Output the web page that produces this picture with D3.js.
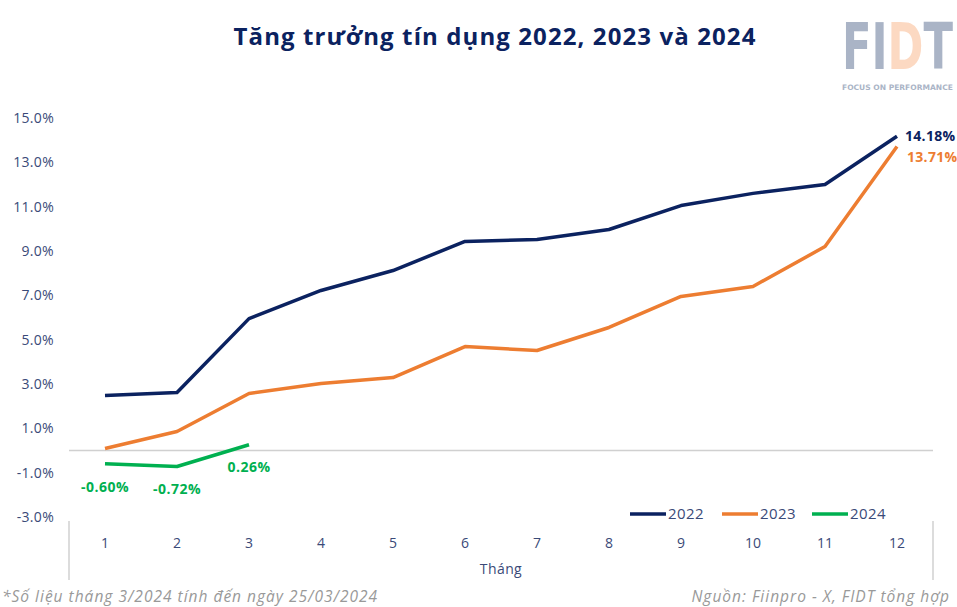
<!DOCTYPE html>
<html>
<head>
<meta charset="utf-8">
<script src="https://cdn.jsdelivr.net/npm/d3@7"></script>
<style>
  body { margin: 0; background: #fff; }
  svg { display: block; font-family: "Open Sans", "DejaVu Sans", sans-serif; }
</style>
</head>
<body>
<div id="chart"></div>
<script>
(function() {
  const width = 957
  const height = 607

  // data
  const months = ['1', '2', '3', '4', '5', '6', '7', '8', '9', '10', '11', '12']
  const y2022 = [2.48, 2.62, 5.95, 7.22, 8.12, 9.43, 9.52, 9.97, 11.05, 11.6, 12.0, 14.18]
  const y2023 = [0.09, 0.86, 2.57, 3.02, 3.29, 4.69, 4.51, 5.55, 6.95, 7.4, 9.2, 13.71]
  const y2024 = [-0.60, -0.72, 0.26]
  const yTicks = [-3, -1, 1, 3, 5, 7, 9, 11, 13, 15]
  const seriesNames = ['2022', '2023', '2024']
  const colors = ['#0b2260', '#ed7d31', '#00b050']

  const navyText = '#3a4a78'
  const hyphen = s => s.replace('\u2212', '-')

  const svg = d3.select('#chart').append('svg')
      .attr('width', width)
      .attr('height', height)

  const x = d3.scaleBand().domain(months).range([69, 933])
  const y = d3.scaleLinear().domain([-3, 15]).range([517, 118])
  const cx = m => x(m) + x.bandwidth() / 2

  // title
  svg.append('text')
      .attr('x', 495).attr('y', 45)
      .attr('text-anchor', 'middle')
      .attr('font-size', 24).attr('font-weight', 700)
      .attr('letter-spacing', 1.1)
      .attr('fill', '#0b2260')
      .text('Tăng trưởng tín dụng 2022, 2023 và 2024')

  // logo: one text, scaled horizontally into its box, D in peach
  const logo = svg.append('text')
      .attr('font-family', 'DejaVu Sans').attr('font-weight', 700)
      .attr('font-size', 64)
      .attr('fill', '#aab4c6')
  logo.append('tspan').text('FI')
  logo.append('tspan').attr('fill', '#fcd9c2').text('D')
  logo.append('tspan').text('T')
  const logoLen = logo.node().getComputedTextLength()
  logo.attr('transform', `translate(842,69) scale(${111 / logoLen},1)`)

  const tag = svg.append('text')
      .attr('font-family', 'DejaVu Sans').attr('font-weight', 700)
      .attr('font-size', 7.5)
      .attr('fill', '#aab4c6')
      .text('FOCUS ON PERFORMANCE')
  const tagLen = tag.node().getComputedTextLength()
  tag.attr('transform', `translate(842,90) scale(${111 / tagLen},1)`)

  // y axis labels
  const yAxis = svg.append('g')
      .attr('transform', 'translate(54,0)')
      .call(d3.axisLeft(y).tickValues(yTicks).tickSize(0).tickPadding(0)
        .tickFormat(d => hyphen(d3.format('.1f')(d)) + '%'))
  yAxis.select('.domain').remove()
  yAxis.selectAll('text')
      .attr('font-size', 14).attr('fill', navyText)
      .attr('letter-spacing', 0.3)
      .attr('font-family', '"Open Sans", sans-serif')

  // zero line
  svg.append('line')
      .attr('x1', 69).attr('x2', 933)
      .attr('y1', y(0)).attr('y2', y(0))
      .attr('stroke', '#d0d0d0').attr('stroke-width', 1.5)

  // category axis
  const xAxis = svg.append('g')
      .attr('transform', 'translate(0,521)')
      .call(d3.axisBottom(x).tickSize(0).tickPadding(17))
  xAxis.select('.domain').remove()
  xAxis.selectAll('text')
      .attr('font-size', 14).attr('fill', navyText)
      .attr('font-family', '"Open Sans", sans-serif')

  svg.selectAll('line.sep').data([69, 933]).enter().append('line')
      .attr('class', 'sep')
      .attr('x1', d => d).attr('x2', d => d)
      .attr('y1', 521).attr('y2', 580)
      .attr('stroke', '#d0d0d0').attr('stroke-width', 1.5)

  svg.append('text')
      .attr('x', 501).attr('y', 574)
      .attr('text-anchor', 'middle')
      .attr('font-size', 14).attr('fill', navyText)
      .attr('letter-spacing', 0.4)
      .text('Tháng')

  // lines
  const line = d3.line()
      .x((d, i) => cx(months[i]))
      .y(d => y(d))
  const allSeries = [y2022, y2023, y2024]
  svg.append('g').selectAll('path').data(allSeries).enter().append('path')
      .attr('d', d => line(d))
      .attr('fill', 'none')
      .attr('stroke', (d, i) => colors[i])
      .attr('stroke-width', 3.5)
      .attr('stroke-linejoin', 'round')

  // end labels
  const fmt = d => hyphen(d3.format('.2f')(d)) + '%'
  svg.append('text')
      .attr('x', cx('12') + 8).attr('y', y(y2022[11]) + 5)
      .attr('font-size', 14).attr('font-weight', 700).attr('fill', colors[0])
      .attr('letter-spacing', 0.3)
      .text(fmt(y2022[11]))
  svg.append('text')
      .attr('x', cx('12') + 10).attr('y', y(y2023[11]) + 15)
      .attr('font-size', 14).attr('font-weight', 700).attr('fill', colors[1])
      .attr('letter-spacing', 0.3)
      .text(fmt(y2023[11]))

  const greenOffsets = [28, 28, 27]
  svg.selectAll('text.g24').data(y2024).enter().append('text')
      .attr('class', 'g24')
      .attr('x', (d, i) => cx(months[i]))
      .attr('y', (d, i) => y(d) + greenOffsets[i])
      .attr('text-anchor', 'middle')
      .attr('font-size', 14).attr('font-weight', 700).attr('fill', colors[2])
      .attr('letter-spacing', 0.5)
      .text(fmt)

  // legend
  const legendX = [630, 722, 812]
  const lg = svg.selectAll('g.lg').data(seriesNames).enter().append('g')
      .attr('class', 'lg')
      .attr('transform', (d, i) => `translate(${legendX[i]},514)`)
  lg.append('line')
      .attr('x1', 0).attr('x2', 36)
      .attr('stroke', (d, i) => colors[i]).attr('stroke-width', 3.5)
  lg.append('text')
      .attr('x', 38).attr('y', 5)
      .attr('font-size', 15).attr('fill', navyText)
      .attr('letter-spacing', 0.4)
      .text(d => d)

  // footer
  svg.append('text')
      .attr('x', 2).attr('y', 602)
      .attr('font-size', 15.5).attr('font-style', 'italic').attr('fill', '#999')
      .attr('letter-spacing', 1)
      .text('*Số liệu tháng 3/2024 tính đến ngày 25/03/2024')
  svg.append('text')
      .attr('x', 950).attr('y', 602)
      .attr('text-anchor', 'end')
      .attr('font-size', 15.5).attr('font-style', 'italic').attr('fill', '#999')
      .attr('letter-spacing', 1)
      .text('Nguồn: Fiinpro - X, FIDT tổng hợp')
})()
</script>
</body>
</html>
